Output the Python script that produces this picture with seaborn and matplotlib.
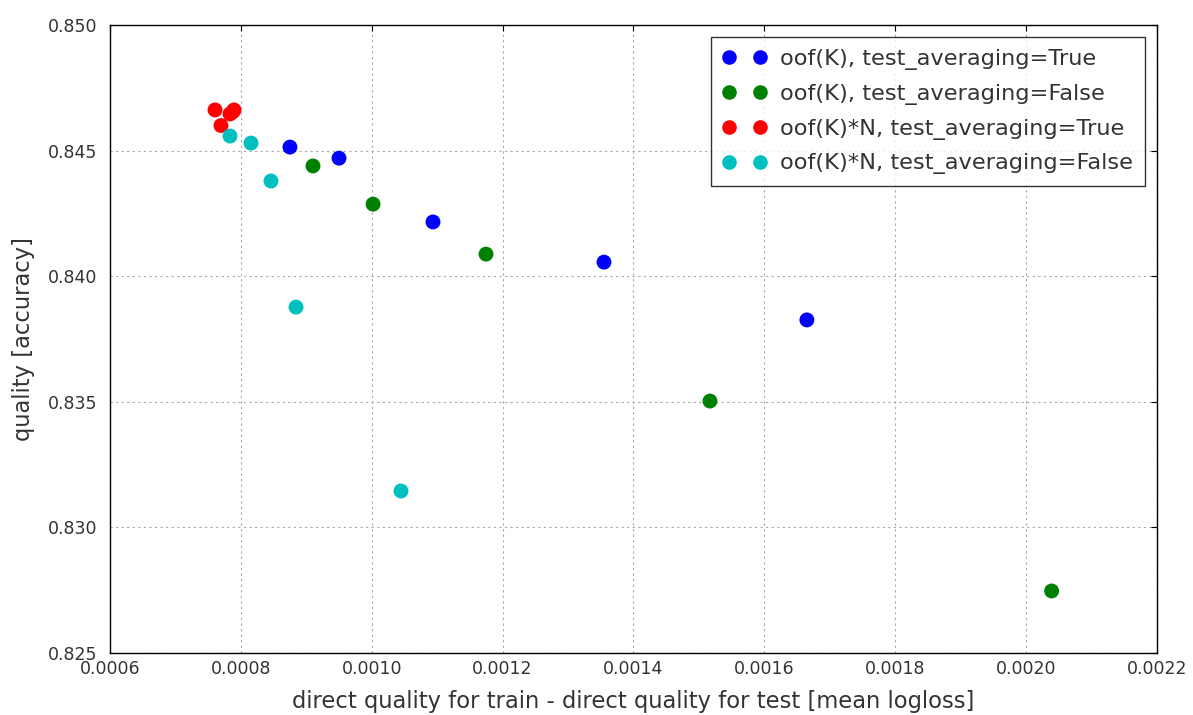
import matplotlib
matplotlib.use("Agg")
import matplotlib.pyplot as plt
import seaborn as sns
import pandas as pd
from matplotlib.lines import Line2D

sns.set_style("white")
plt.rcParams['font.family'] = ['DejaVu Sans']

labels = ["oof(K), test_averaging=True", "oof(K), test_averaging=False",
          "oof(K)*N, test_averaging=True", "oof(K)*N, test_averaging=False"]
colors = ["#0000ff", "#008000", "#ff0000", "#00bfbf"]

blue_x = [0.000875, 0.000950, 0.0010936, 0.0013549, 0.001665]
blue_y = [0.84514, 0.84470, 0.84216, 0.84056, 0.83826]
green_x = [0.0009102, 0.001002, 0.0011746, 0.0015169, 0.002039]
green_y = [0.84439, 0.84287, 0.84088, 0.83503, 0.82747]
red_x = [0.0007605, 0.0007696, 0.0007834, 0.0007895, 0.000788]
red_y = [0.84662, 0.84600, 0.84646, 0.84662, 0.84655]
cyan_x = [0.0007834, 0.0008155, 0.000846, 0.0008843, 0.0010447]
cyan_y = [0.84558, 0.84530, 0.84379, 0.83877, 0.83145]

xtick_vals = [0.0006, 0.0008, 0.0010, 0.0012, 0.0014, 0.0016, 0.0018, 0.0020, 0.0022]
xtick_labels = ["0.0006", "0.0008", "0.0010", "0.0012", "0.0014", "0.0016", "0.0018", "0.0020", "0.0022"]
ytick_vals = [0.825, 0.830, 0.835, 0.840, 0.845, 0.850]
ytick_labels = ["0.825", "0.830", "0.835", "0.840", "0.845", "0.850"]

xs = [blue_x, green_x, red_x, cyan_x]
ys = [blue_y, green_y, red_y, cyan_y]
frames = []
for lab, x, y in zip(labels, xs, ys):
    frames.append(pd.DataFrame({"x": x, "y": y, "group": lab}))
df = pd.concat(frames, ignore_index=True)

fig = plt.figure(figsize=(11.93, 7.15), dpi=100)
ax = fig.add_axes([0.0922, 0.0867, 0.8776, 0.8783])
sns.scatterplot(data=df, x="x", y="y", hue="group", hue_order=labels,
                palette=dict(zip(labels, colors)), s=115, linewidth=0,
                ax=ax, legend=False, zorder=3)

ax.set_xlim(0.0006, 0.0022)
ax.set_ylim(0.825, 0.850)
ax.set_xticks(xtick_vals)
ax.set_xticklabels(xtick_labels)
ax.set_yticks(ytick_vals)
ax.set_yticklabels(ytick_labels)
ax.grid(True, linestyle=(0, (2, 3)), color="#a8a8a8", linewidth=0.8)
ax.tick_params(direction="in", length=4, top=True, right=True, labelsize=12.5,
               colors="black", labelcolor="#333333", width=0.8)
ax.tick_params(axis="y", pad=9)
ax.tick_params(axis="x", pad=5)
for sp in ax.spines.values():
    sp.set_color("black")
    sp.set_linewidth(1.0)
ax.set_xlabel("direct quality for train - direct quality for test [mean logloss]",
              fontsize=16.3, color="#333333", labelpad=9)
ax.set_ylabel("quality [accuracy]", fontsize=16.3, color="#333333", labelpad=9)

handles = [Line2D([0], [0], marker="o", linestyle="none", color=c,
                  markersize=10.5, markeredgewidth=0) for c in colors]
leg = ax.legend(handles, labels, loc="upper right", numpoints=2, fontsize=16.2,
                frameon=True, fancybox=False, borderpad=0.5, handlelength=2.0,
                handletextpad=0.6, labelspacing=0.62, borderaxespad=0.55)
leg.get_frame().set_edgecolor("black")
leg.get_frame().set_linewidth(1.0)
for t in leg.get_texts():
    t.set_color("#333333")

fig.savefig("out.png", dpi=100, facecolor="white")
